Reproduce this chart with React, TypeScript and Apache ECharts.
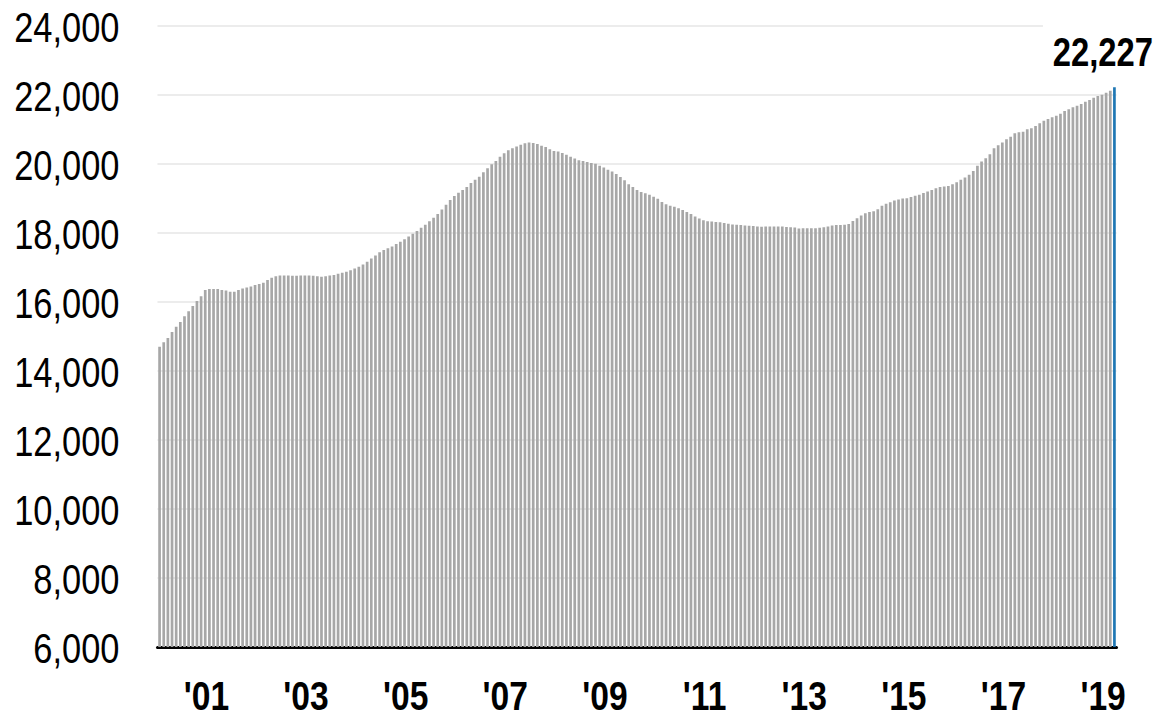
import React, { useEffect, useRef } from "react";
import * as echarts from "echarts";

// Monthly values, Jan 2000 – Mar 2019
const y2000 = [14700, 14830, 14960, 15130, 15280, 15420, 15585, 15730, 15885, 16030, 16170, 16350];
const y2001 = [16380, 16380, 16380, 16350, 16330, 16300, 16300, 16350, 16390, 16420, 16450, 16490];
const y2002 = [16520, 16560, 16640, 16700, 16750, 16770, 16770, 16770, 16760, 16760, 16770, 16770];
const y2003 = [16770, 16760, 16750, 16730, 16750, 16770, 16780, 16820, 16850, 16880, 16920, 16970];
const y2004 = [17020, 17090, 17170, 17260, 17350, 17440, 17510, 17560, 17610, 17680, 17750, 17820];
const y2005 = [17900, 17980, 18060, 18150, 18240, 18340, 18440, 18550, 18680, 18820, 18960, 19070];
const y2006 = [19170, 19250, 19330, 19450, 19540, 19630, 19760, 19880, 19995, 20090, 20210, 20310];
const y2007 = [20400, 20460, 20510, 20560, 20600, 20620, 20610, 20580, 20530, 20490, 20430, 20380];
const y2008 = [20360, 20320, 20270, 20210, 20160, 20110, 20090, 20060, 20030, 20010, 19950, 19900];
const y2009 = [19835, 19780, 19710, 19620, 19530, 19410, 19330, 19250, 19190, 19150, 19110, 19050];
const y2010 = [18990, 18900, 18830, 18790, 18760, 18720, 18670, 18610, 18550, 18480, 18420, 18370];
const y2011 = [18340, 18330, 18320, 18310, 18290, 18270, 18250, 18240, 18230, 18220, 18210, 18200];
const y2012 = [18190, 18180, 18190, 18190, 18190, 18190, 18190, 18175, 18170, 18160, 18130, 18140];
const y2013 = [18140, 18140, 18140, 18150, 18170, 18190, 18220, 18230, 18230, 18240, 18260, 18350];
const y2014 = [18430, 18510, 18570, 18610, 18630, 18690, 18790, 18850, 18890, 18940, 18970, 19000];
const y2015 = [19010, 19040, 19080, 19110, 19160, 19200, 19250, 19300, 19330, 19350, 19360, 19410];
const y2016 = [19470, 19540, 19610, 19690, 19800, 19950, 20070, 20165, 20280, 20455, 20540, 20620];
const y2017 = [20715, 20790, 20890, 20920, 20935, 21005, 21035, 21100, 21180, 21255, 21305, 21355];
const y2018 = [21400, 21460, 21535, 21585, 21645, 21690, 21740, 21805, 21855, 21920, 21970, 22010];
const y2019 = [22065, 22125, 22227];

const startYear = 2000;
const yearlyValues = [
  y2000, y2001, y2002, y2003, y2004, y2005, y2006, y2007, y2008, y2009,
  y2010, y2011, y2012, y2013, y2014, y2015, y2016, y2017, y2018, y2019,
];
const xTickLabels = ["'01", "'03", "'05", "'07", "'09", "'11", "'13", "'15", "'17", "'19"];
const yTickValues = [6000, 8000, 10000, 12000, 14000, 16000, 18000, 20000, 22000, 24000];
const yMin = 6000;
const yMax = 24000;
const yStep = 2000;

const values: number[] = ([] as number[]).concat(...yearlyValues);
const months: string[] = [];
yearlyValues.forEach((arr, yi) => {
  arr.forEach((_, mi) => months.push(`${startYear + yi}-${String(mi + 1).padStart(2, "0")}`));
});

const GRAY = "#a7a7a7";
const BLUE = "#1f77b4";
const FONT = "'Liberation Sans', Arial, sans-serif";
const NARROW = 0.82;

export default function App() {
  const ref = useRef<HTMLDivElement>(null);
  useEffect(() => {
    if (!ref.current) return;
    const chart = echarts.init(ref.current, undefined, { renderer: "svg" });
    const last = values.length - 1;
    const data = values.map((v, i) => (i === last ? { value: v, itemStyle: { color: BLUE } } : v));
    chart.setOption({
      animation: false,
      grid: { left: 157.5, right: 43.5, top: 26, bottom: 71, containLabel: false, outerBoundsMode: "none" },
      xAxis: {
        type: "category",
        data: months,
        axisLine: { show: true, lineStyle: { color: "#000", width: 3 } },
        axisTick: { show: false },
        axisLabel: { show: false },
        splitLine: { show: false },
      },
      yAxis: {
        type: "value",
        min: yMin,
        max: yMax,
        interval: yStep,
        axisLine: { show: false },
        axisTick: { show: false },
        axisLabel: { show: false },
        splitLine: { show: true, lineStyle: { color: "#ececec", width: 2 } },
      },
      series: [
        {
          type: "bar",
          data,
          barCategoryGap: "35%",
          itemStyle: { color: GRAY },
          emphasis: { disabled: true },
          z: 3,
        },
      ],
    });

    // Tick labels and value label, placed through the chart's own scales,
    // drawn with a horizontally condensed sans face.
    const graphics: any[] = [];
    yTickValues.forEach((v) => {
      const py = chart.convertToPixel({ yAxisIndex: 0 }, v) as number;
      graphics.push({
        type: "text",
        x: 119.5,
        y: py + 1,
        scaleX: NARROW,
        style: {
          text: v.toLocaleString("en-US"),
          font: `42px ${FONT}`,
          fill: "#000",
          align: "right",
          verticalAlign: "middle",
        },
      });
    });
    months.forEach((m) => {
      const [yy, mm] = m.split("-");
      const label = "'" + yy.slice(2);
      if (mm !== "01" || !xTickLabels.includes(label)) return;
      const px = chart.convertToPixel({ xAxisIndex: 0 }, m) as number;
      graphics.push({
        type: "text",
        x: px - 3,
        y: 696,
        scaleX: NARROW,
        style: {
          text: label,
          font: `bold 41px ${FONT}`,
          fill: "#000",
          align: "center",
          verticalAlign: "middle",
        },
      });
    });
    const lastPt = chart.convertToPixel({ gridIndex: 0 }, [months[last], values[last]]) as number[];
    const cx = lastPt[0] - 11.5;
    const cy = lastPt[1] - 34.5;
    graphics.push({
      type: "rect",
      shape: { x: cx - 60, y: cy - 34, width: 1160 - (cx - 60), height: 50 },
      style: { fill: "#fff" },
      z: 5,
    });
    graphics.push({
      type: "text",
      x: cx,
      y: cy,
      scaleX: NARROW,
      z: 6,
      style: {
        text: values[last].toLocaleString("en-US"),
        font: `bold 40px ${FONT}`,
        fill: "#000",
        align: "center",
        verticalAlign: "middle",
      },
    });
    chart.setOption({ graphic: graphics });
    return () => chart.dispose();
  }, []);
  return (
    <div
      ref={ref}
      style={{ position: "absolute", left: 0, top: 0, width: 1160, height: 718, background: "#fff" }}
    />
  );
}
